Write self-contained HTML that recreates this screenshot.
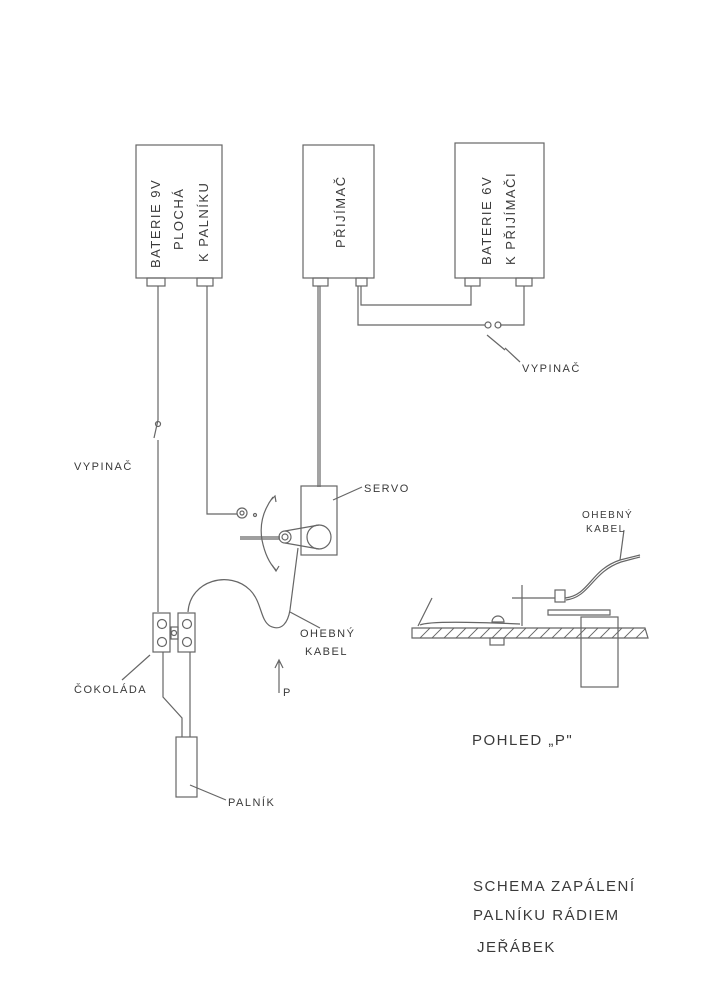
<!DOCTYPE html>
<html><head><meta charset="utf-8"><style>
html,body{margin:0;padding:0;background:#fff;}
svg{display:block}
text{font-family:"Liberation Sans",sans-serif;fill:#3a3a3a;letter-spacing:1.5px}
</style></head><body>
<svg width="727" height="1000" viewBox="0 0 727 1000" xmlns="http://www.w3.org/2000/svg">
<rect width="727" height="1000" fill="#fff"/>
<g stroke="#666" stroke-width="1.2" fill="none">
<!-- boxes -->
<rect x="136" y="145" width="86" height="133"/>
<rect x="303" y="145" width="71" height="133"/>
<rect x="455" y="143" width="89" height="135"/>
<rect x="147" y="278" width="18" height="8"/><rect x="197" y="278" width="16" height="8"/>
<rect x="313" y="278" width="15" height="8"/><rect x="356" y="278" width="11" height="8"/>
<rect x="465" y="278" width="15" height="8"/><rect x="516" y="278" width="16" height="8"/>
<!-- wires -->
<path d="M158 286 V420 M158 440 V612"/>
<path d="M158 420 L154 438"/>
<circle cx="158" cy="424" r="2.5"/>
<path d="M207 286 V514 H237"/>
<circle cx="242" cy="513" r="5"/><circle cx="242" cy="513" r="2"/><circle cx="255" cy="515" r="1.5"/>
<path d="M318 286 V487 M320 286 V487"/>
<path d="M361 286 V305 H471 V286"/>
<path d="M358 286 V325 H485 M500 325 H524 V286"/>
<circle cx="488" cy="325" r="3"/><circle cx="498" cy="325" r="3"/>
<path d="M487 335 L505 350"/>
<path d="M505 348 L520 362"/>
<!-- servo -->
<rect x="301" y="486" width="36" height="69"/>
<circle cx="319" cy="537" r="12"/>
<circle cx="285" cy="537" r="6"/><circle cx="285" cy="537" r="3"/>
<path d="M285 531 L319 525 M285 543 L319 549"/>
<path d="M240 537 H280 M240 539 H280"/>
<path d="M333 500 L362 487"/>
<path d="M273 497 Q258 517 262 540 Q266 560 276 570"/>
<path d="M271 500 L275 496 L276 502"/>
<path d="M272 565 L276 571 L279 566"/>
<!-- cable -->
<path d="M188 612 C190 580 230 570 250 590 C262 602 260 620 270 626 C282 632 288 622 290 610 L298 548"/>
<path d="M290 612 L320 628"/>
<!-- cokolada -->
<rect x="153" y="613" width="17" height="39"/><rect x="178" y="613" width="17" height="39"/>
<rect x="171" y="627" width="7" height="12"/>
<circle cx="162" cy="624" r="4.5"/><circle cx="162" cy="642" r="4.5"/>
<circle cx="187" cy="624" r="4.5"/><circle cx="187" cy="642" r="4.5"/>
<circle cx="174" cy="633" r="2.5"/>
<path d="M150 655 L122 680"/>
<path d="M163 652 V697 L182 718 V737 M190 652 V737"/>
<rect x="176" y="737" width="21" height="60"/>
<path d="M190 785 L226 800"/>
<!-- arrow P -->
<path d="M279 693 V660 M275 668 L279 660 L283 668"/>
<!-- side view -->
<path d="M412 628 H645 L648 638 H412 Z"/>
<g stroke-width="0.9">
<path d="M420 638 L430 628 M432 638 L442 628 M444 638 L454 628 M456 638 L466 628 M468 638 L478 628 M480 638 L490 628 M492 638 L502 628 M504 638 L514 628 M516 638 L526 628 M528 638 L538 628 M540 638 L550 628 M552 638 L562 628 M564 638 L574 628 M576 638 L586 628 M588 638 L598 628 M600 638 L610 628 M612 638 L622 628 M624 638 L634 628 M636 638 L645 629"/>
</g>
<rect x="581" y="617" width="37" height="70"/>
<path d="M548 615 H610 V610 H548 Z"/>
<path d="M522 626 V585 M512 598 H555"/>
<rect x="555" y="590" width="10" height="12"/>
<path d="M420 625 Q430 620 520 624 M418 626 Q425 612 432 598"/>
<path d="M492 622 A6 6 0 0 1 504 622 Z"/>
<rect x="490" y="638" width="14" height="7"/>
<path d="M565 598 C590 595 590 570 620 560 L640 555 M566 600 C590 597 592 572 621 562 L640 557"/>
<path d="M620 560 L624 530"/>
</g>
<g font-size="13">
<text transform="translate(160,268) rotate(-90)">BATERIE 9V</text>
<text transform="translate(183,250) rotate(-90)">PLOCHÁ</text>
<text transform="translate(208,262) rotate(-90)">K PALNÍKU</text>
<text transform="translate(345,248) rotate(-90)">PŘIJÍMAČ</text>
<text transform="translate(491,265) rotate(-90)">BATERIE 6V</text>
<text transform="translate(515,265) rotate(-90)">K PŘIJÍMAČI</text>
</g>
<g font-size="11">
<text x="522" y="372">VYPINAČ</text>
<text x="74" y="470">VYPINAČ</text>
<text x="364" y="492">SERVO</text>
<text x="300" y="637">OHEBNÝ</text>
<text x="305" y="655">KABEL</text>
<text x="283" y="696">P</text>
<text x="74" y="693">ČOKOLÁDA</text>
<text x="228" y="806">PALNÍK</text>
<text x="582" y="518" font-size="10">OHEBNÝ</text>
<text x="586" y="532" font-size="10">KABEL</text>
</g>
<g font-size="15">
<text x="472" y="745">POHLED „P"</text>
<text x="473" y="891">SCHEMA ZAPÁLENÍ</text>
<text x="473" y="920">PALNÍKU RÁDIEM</text>
<text x="477" y="952">JEŘÁBEK</text>
</g>
</svg>
</body></html>
